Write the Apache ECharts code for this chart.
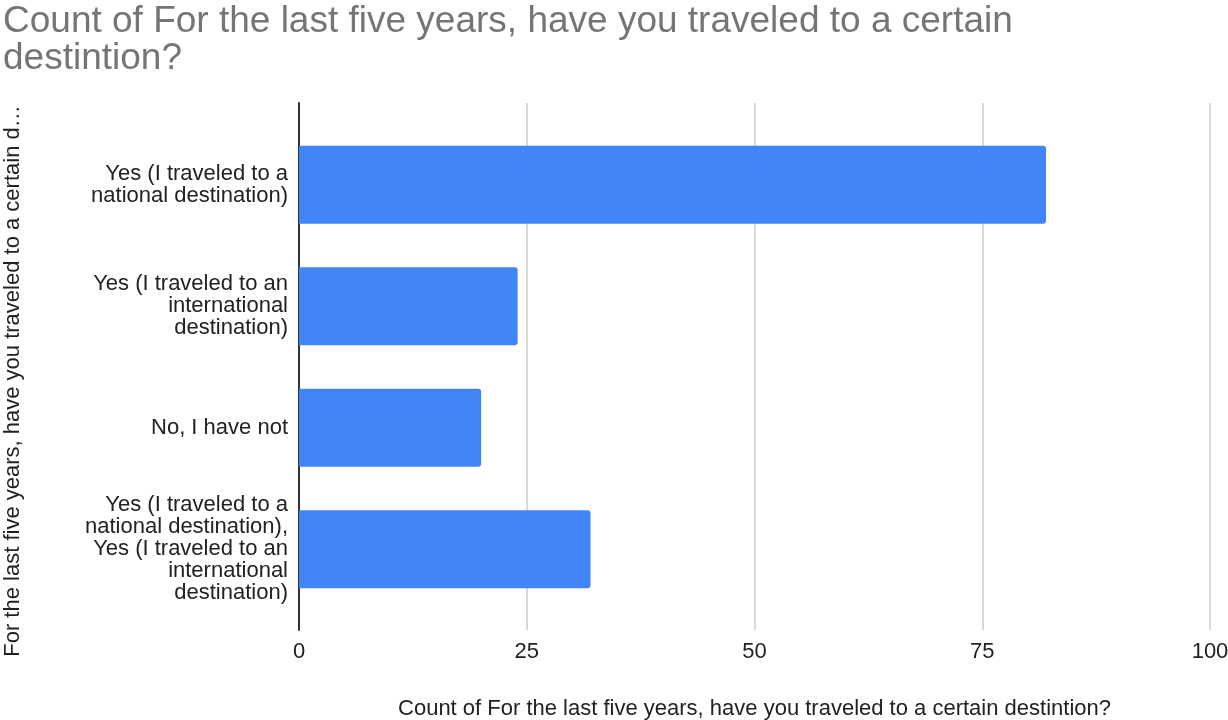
<!DOCTYPE html>
<html>
<head>
<meta charset="utf-8">
<script src="https://cdn.jsdelivr.net/npm/echarts@6/dist/echarts.min.js"></script>
<style>
  html, body { margin: 0; padding: 0; background: #fff; }
  #chart { width: 1228px; height: 720px; }
</style>
</head>
<body>
<div id="chart"></div>
<script>
var titleText = "Count of For the last five years, have you traveled to a certain\ndestintion?";
var xAxisTitle = "Count of For the last five years, have you traveled to a certain destintion?";
var yAxisTitle = "For the last five years, have you traveled to a certain d\u2026";
var categories = [
  "Yes (I traveled to a\nnational destination)",
  "Yes (I traveled to an\ninternational\ndestination)",
  "No, I have not",
  "Yes (I traveled to a\nnational destination),\nYes (I traveled to an\ninternational\ndestination)"
];
var counts = [82, 24, 20, 32];
var xMin = 0;
var xMax = 100;
var xStep = 25;

var font = "'Liberation Sans', Arial, sans-serif";
var chart = echarts.init(document.getElementById("chart"));
var option = {
  animation: false,
  textStyle: { fontFamily: font },
  title: {
    text: titleText,
    left: 3,
    top: 3,
    padding: 0,
    textStyle: { color: "#757575", fontSize: 37, fontWeight: "normal", lineHeight: 37, fontFamily: font }
  },
  graphic: [{
    type: "text",
    x: 13,
    y: 381,
    rotation: Math.PI / 2,
    style: {
      text: yAxisTitle,
      fill: "#222",
      font: "22px " + font,
      align: "center",
      verticalAlign: "middle"
    }
  }],
  grid: [
    // frame: grid lines, axis line and tick labels
    { left: 299, right: 18, top: 103, bottom: 90, outerBoundsMode: "none", containLabel: false },
    // bars
    { left: 299, right: 18, top: 124, bottom: 110, outerBoundsMode: "none", containLabel: false }
  ],
  xAxis: [
    {
      gridIndex: 0,
      type: "value",
      min: xMin,
      max: xMax,
      interval: xStep,
      name: xAxisTitle,
      nameLocation: "middle",
      nameGap: 68,
      nameTextStyle: { color: "#222", fontSize: 22, fontFamily: font },
      axisLine: { show: false },
      axisTick: { show: false },
      axisLabel: { color: "#222", fontSize: 22, margin: 11, fontFamily: font },
      splitLine: { lineStyle: { color: "#cccccc", width: 1.5 } }
    },
    {
      gridIndex: 1,
      type: "value",
      min: xMin,
      max: xMax,
      show: false
    }
  ],
  yAxis: [
    {
      gridIndex: 0,
      type: "value",
      axisLine: { show: true, lineStyle: { color: "#333", width: 2 } },
      axisTick: { show: false },
      axisLabel: { show: false },
      splitLine: { show: false }
    },
    {
      gridIndex: 1,
      type: "category",
      inverse: true,
      data: categories,
      axisLine: { show: false },
      axisTick: { show: false },
      splitLine: { show: false },
      axisLabel: {
        color: "#222",
        fontSize: 22,
        lineHeight: 22,
        margin: 11,
        align: "right",
        fontFamily: font
      }
    }
  ],
  series: [{
    type: "bar",
    xAxisIndex: 1,
    yAxisIndex: 1,
    data: counts,
    barCategoryGap: "36%",
    itemStyle: { color: "#4285f4", borderRadius: [0, 3, 3, 0] }
  }]
};
chart.setOption(option);
</script>
</body>
</html>
